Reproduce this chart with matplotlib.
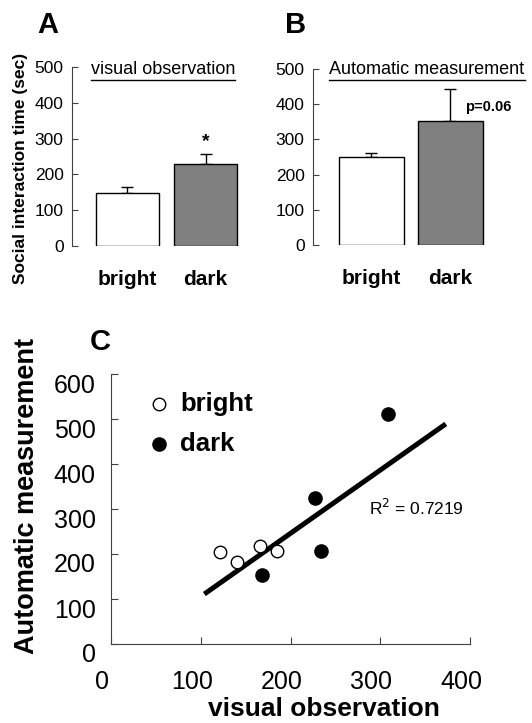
import matplotlib
matplotlib.use("Agg")
import matplotlib.pyplot as plt
import matplotlib.transforms as mtransforms
from matplotlib.lines import Line2D

plt.rcParams["font.family"] = ["Liberation Sans", "DejaVu Sans"]

# data
groups = ["bright", "dark"]
visual_mean = [148, 229]
visual_err = [17, 28]
auto_mean = [250, 352]
auto_err = [12, 91]
bar_colors = ["white", "#808080"]

bright_x = [121, 140, 166, 185]
bright_y = [204, 182, 218, 207]
dark_x = [168, 227, 234, 309]
dark_y = [153, 324, 207, 511]
trend_x = [104, 373]
trend_y = [111, 489]

W, H = 532, 723
fig = plt.figure(figsize=(W / 100, H / 100), dpi=100)


def axes_px(l, t, r, b):
    return fig.add_axes([l / W, 1 - b / H, (r - l) / W, (b - t) / H])


def shift(labels, dx, dy):
    for lab in labels:
        lab.set_transform(lab.get_transform() + mtransforms.ScaledTranslation(dx / 100, -dy / 100, fig.dpi_scale_trans))


def bar_panel(ax, means, errs, width, xlim):
    pos = list(range(len(groups)))
    ax.bar(pos, means, width=width, color=bar_colors, edgecolor="black", linewidth=1, zorder=2)
    ax.errorbar(pos, means, yerr=[[0] * len(errs), errs], fmt="none", ecolor="black",
                elinewidth=1, capsize=4.5, capthick=1, zorder=1)
    ax.set_xlim(*xlim)
    ax.set_ylim(0, 500)
    ax.set_yticks([0, 100, 200, 300, 400, 500])
    ax.set_xticks(pos)
    ax.set_xticklabels(groups, fontsize=15, fontweight="bold")
    ax.tick_params(axis="x", length=0, pad=17)
    ax.tick_params(axis="y", direction="in", length=4, labelsize=12.5, pad=6, color="#404040")
    for s in ["top", "right", "bottom"]:
        ax.spines[s].set_visible(False)
    ax.spines["left"].set_color("#404040")


def underlined(x, y, s):
    t = fig.text(x / W, 1 - y / H, s, fontsize=13, ha="center", va="baseline")
    fig.canvas.draw()
    bb = t.get_window_extent()
    fig.add_artist(Line2D([bb.x0 / W, bb.x1 / W], [(bb.y0 - 1.5) / H, (bb.y0 - 1.5) / H],
                          color="black", lw=1))


# panel A
axA = axes_px(72, 67, 250, 246)
bar_panel(axA, visual_mean, visual_err, 0.81, (-0.71, 1.57))
axA.text(1, visual_mean[1] + visual_err[1] + 12, "*", ha="center", va="bottom",
         fontsize=14, fontweight="bold")
underlined(163, 74, "visual observation")
fig.text(21 / W, 1 - 168 / H, "Social interaction time (sec)", rotation=90, ha="center",
         va="center", fontsize=12.5, fontweight="bold")
fig.text(48 / W, 1 - 25 / H, "A", fontsize=21, fontweight="bold", ha="center", va="center")

# panel B
axB = axes_px(313, 69, 520, 245)
bar_panel(axB, auto_mean, auto_err, 0.82, (-0.74, 1.88))
axB.text(1.19, 392, "p=0.06", ha="left", va="center", fontsize=10.5, fontweight="bold")
underlined(427, 74, "Automatic measurement")
fig.text(296 / W, 1 - 25 / H, "B", fontsize=21, fontweight="bold", ha="center", va="center")

# panel C
axC = axes_px(111, 374, 470, 644)
axC.plot(trend_x, trend_y, color="black", lw=3.6, solid_capstyle="butt", zorder=1)
axC.plot(bright_x, bright_y, "o", ms=9, mfc="white", mec="black", mew=1, zorder=2)
axC.plot(dark_x, dark_y, "o", ms=9.5, mfc="black", mec="black", zorder=2)
axC.set_xlim(0, 400)
axC.set_ylim(0, 600)
axC.set_xticks([0, 100, 200, 300, 400])
axC.set_yticks([0, 100, 200, 300, 400, 500, 600])
axC.tick_params(direction="in", length=5, labelsize=18, color="#404040")
axC.tick_params(axis="x", pad=19)
axC.tick_params(axis="y", pad=11)
shift(axC.get_xticklabels(), -9, 0)
shift(axC.get_yticklabels(), 0, 9)
for s in ["top", "right"]:
    axC.spines[s].set_visible(False)
for s in ["left", "bottom"]:
    axC.spines[s].set_color("#404040")

axC.plot([54], [533], "o", ms=9, mfc="white", mec="black", mew=1)
axC.plot([54], [444], "o", ms=9.5, mfc="black", mec="black")
axC.text(77, 533, "bright", fontsize=18.5, fontweight="bold", va="center")
axC.text(77, 444, "dark", fontsize=18.5, fontweight="bold", va="center")
axC.text(287, 302, "R$^2$ = 0.7219", fontsize=12.5, va="center")

fig.text(324 / W, 1 - 716 / H, "visual observation", ha="center", va="baseline",
         fontsize=19, fontweight="bold")
fig.text(27 / W, 1 - 496 / H, "Automatic measurement", rotation=90, ha="center",
         va="center", fontsize=19.5, fontweight="bold")
fig.text(100 / W, 1 - 342 / H, "C", fontsize=21, fontweight="bold", ha="center", va="center")

fig.savefig("out.png", dpi=100)
